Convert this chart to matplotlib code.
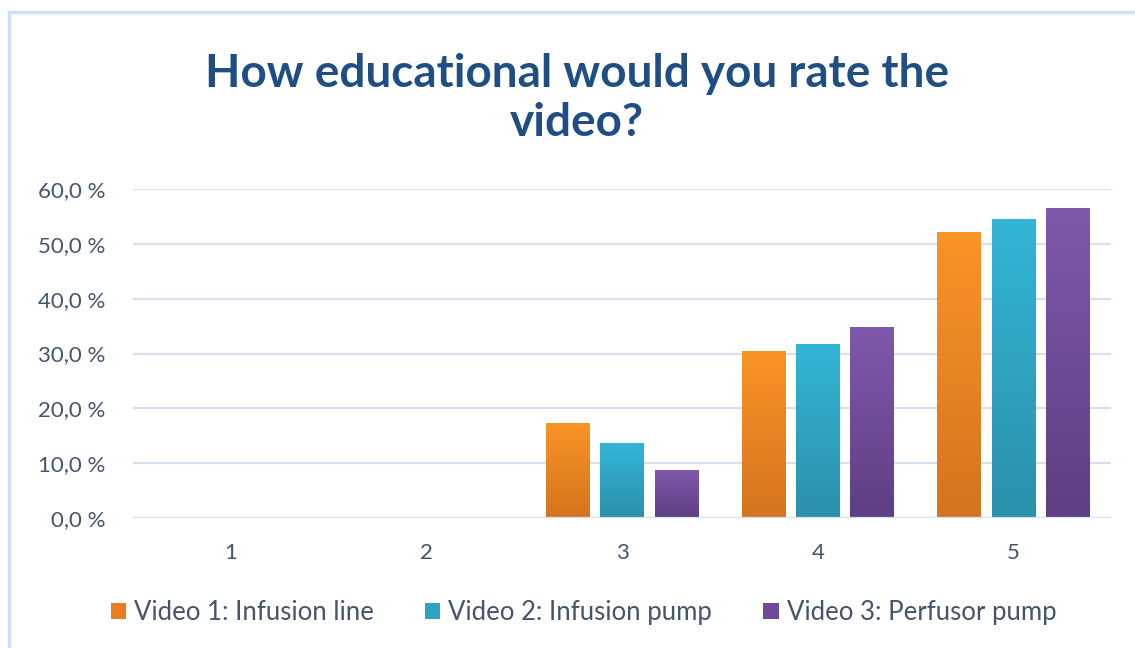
import numpy as np
import matplotlib
matplotlib.use("Agg")
import matplotlib.pyplot as plt
from matplotlib.ticker import FuncFormatter
from matplotlib.colors import LinearSegmentedColormap
from matplotlib.patches import Patch
from matplotlib.lines import Line2D

plt.rcParams['font.family'] = ['Lato', 'DejaVu Sans']

categories = ["1", "2", "3", "4", "5"]
series_names = ["Video 1: Infusion line", "Video 2: Infusion pump", "Video 3: Perfusor pump"]
video1 = [0.0, 0.0, 17.4, 30.4, 52.2]
video2 = [0.0, 0.0, 13.6, 31.8, 54.5]
video3 = [0.0, 0.0, 8.7, 34.8, 56.5]
yticks = [0, 10, 20, 30, 40, 50, 60]

top_colors = ["#F99426", "#33B5D6", "#8058AC"]
bot_colors = ["#D5731F", "#2B90AB", "#5E3F82"]
legend_colors = ["#E87D22", "#2FA2C2", "#6E4A98"]

title_color = "#1F4E85"
text_color = "#44546A"
grid_color = "#D6E0EE"

fig = plt.figure(figsize=(11.35, 6.48), dpi=100)
fig.patch.set_facecolor("white")
ax = fig.add_axes([0.1172, 0.2006, 0.979 - 0.1172, 0.7083 - 0.2006])

x = np.arange(1, len(categories) + 1)
step = 0.277
width = 0.222
all_series = [video1, video2, video3]
for i, vals in enumerate(all_series):
    bars = ax.bar(x + (i - 1) * step, vals, width=width, color=bot_colors[i],
                  zorder=3, linewidth=0)
    cmap = LinearSegmentedColormap.from_list("g%d" % i, [bot_colors[i], top_colors[i]])
    grad = np.linspace(0, 1, 256).reshape(-1, 1)
    for b in bars:
        h = b.get_height()
        if h <= 0:
            continue
        x0 = b.get_x()
        w = b.get_width()
        im = ax.imshow(grad, extent=[x0, x0 + w, 0, h], origin="lower",
                       cmap=cmap, aspect="auto", zorder=4, interpolation="bilinear")
        im.set_clip_path(b)

ax.set_xlim(0.5, 5.5)
ax.set_ylim(0, 60)
ax.set_yticks(yticks)
ax.yaxis.set_major_formatter(FuncFormatter(lambda v, p: ("%.1f" % v).replace(".", ",") + " %"))
ax.set_xticks(x)
ax.set_xticklabels(categories)
ax.tick_params(axis="both", length=0, labelsize=16, colors=text_color)
ax.tick_params(axis="y", pad=20)
ax.tick_params(axis="x", pad=18)
ax.grid(axis="y", color=grid_color, linewidth=1.6, zorder=0)
for s in ax.spines.values():
    s.set_visible(False)
ax.axhline(0, color=grid_color, linewidth=1.6, zorder=5)

fig.text(0.508, 0.848, "How educational would you rate the\nvideo?", ha="center", va="center",
         fontsize=33, fontweight="bold", color=title_color, linespacing=1.2)

handles = [Patch(facecolor=c, edgecolor="none") for c in legend_colors]
fig.legend(handles, series_names, loc="center", bbox_to_anchor=(0.514, 0.055), ncol=3,
           frameon=False, fontsize=18.5, labelcolor=text_color, handlelength=0.6,
           handleheight=0.6, handletextpad=0.3, columnspacing=2.0)

# light border lines (top and left)
fig.add_artist(Line2D([0.008, 1.0], [1 - 12 / 648, 1 - 12 / 648], transform=fig.transFigure,
                      color="#CFE0F5", linewidth=2.5))
fig.add_artist(Line2D([9 / 1135, 9 / 1135], [0.0, 1 - 12 / 648], transform=fig.transFigure,
                      color="#CFE0F5", linewidth=2.5))

fig.savefig("out.png", dpi=100, facecolor="white")
